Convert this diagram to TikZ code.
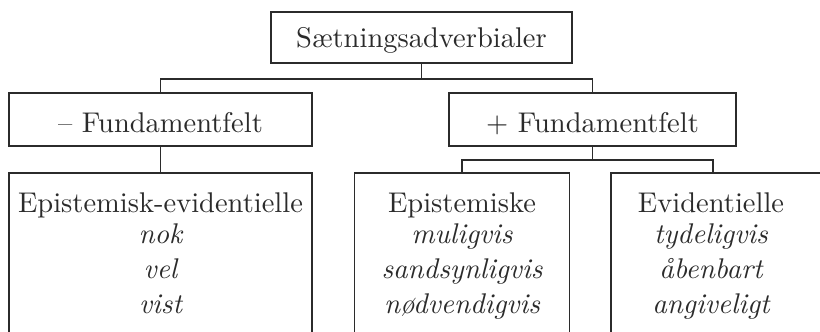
\documentclass[tikz,border=0pt]{standalone}
\DeclareFontFamily{TU}{lmten}{}
\DeclareFontShape{TU}{lmten}{m}{n}{<-> "[lmroman10-regular]:mapping=tex-text"}{}
\DeclareFontShape{TU}{lmten}{m}{it}{<-> "[lmroman10-italic]:mapping=tex-text"}{}
\definecolor{ink}{HTML}{2B2B2B}
\begin{document}
\begin{tikzpicture}[x=1pt,y=-1pt,
  box/.style={draw=ink, line width=1.8pt, rectangle, inner sep=0pt},
  conn/.style={draw=ink, line width=1.5pt},
  lbl/.style={anchor=base, inner sep=0pt, text=ink, font=\fontfamily{lmten}\fontsize{28.5}{32}\selectfont},
  ex/.style={anchor=base, inner sep=0pt, text=ink, font=\fontfamily{lmten}\fontsize{28.5}{32}\selectfont\itshape}]
\useasboundingbox (0,0) rectangle (820,332);
\clip (0,0) rectangle (820,332);
% boxes
\node[box, minimum width=301pt, minimum height=51pt] (top) at (421.5,37.5) {};
\node[box, minimum width=303pt, minimum height=53pt] (minus) at (160.5,119.5) {};
\node[box, minimum width=287pt, minimum height=53pt] (plus) at (592.5,119.5) {};
\node[box, minimum width=303pt, minimum height=190pt] (ee) at (160.5,268) {};
\node[box, minimum width=215pt, minimum height=190pt] (ep) at (462,268) {};
\node[box, minimum width=230pt, minimum height=190pt] (ev) at (726,268) {};
% texts
\node[lbl] (ttop) at (421.5,47) {Sætningsadverbialer};
\node[lbl] (tminus) at (160.5,132) {– Fundamentfelt};
\node[lbl] (tplus) at (592.5,132) {+ Fundamentfelt};
\node[lbl] (tee) at (160.5,212) {Epistemisk-evidentielle};
\node[ex] (ee1) at (160.5,243) {nok};
\node[ex] (ee2) at (160.5,278) {vel};
\node[ex] (ee3) at (160.5,313) {vist};
\node[lbl] (tep) at (462,212) {Epistemiske};
\node[ex] (ep1) at (462,243) {muligvis};
\node[ex] (ep2) at (462,278) {sandsynligvis};
\node[ex] (ep3) at (462,313) {nødvendigvis};
\node[lbl] (tev) at (711,212) {Evidentielle};
\node[ex] (ev1) at (711,243) {tydeligvis};
\node[ex] (ev2) at (711,278) {åbenbart};
\node[ex] (ev3) at (711,313) {angiveligt};
% connectors
\coordinate (j1) at (421.5,79);
\coordinate (j2) at (592.5,160);
\coordinate (evtop) at (713,173);
\draw[conn] (top.south) -- (j1);
\draw[conn] (minus.north) |- (j1) -| (plus.north);
\draw[conn] (minus.south) -- (ee.north);
\draw[conn] (plus.south) -- (j2);
\draw[conn] (ep.north) |- (j2) -| (evtop);
\end{tikzpicture}
\end{document}
